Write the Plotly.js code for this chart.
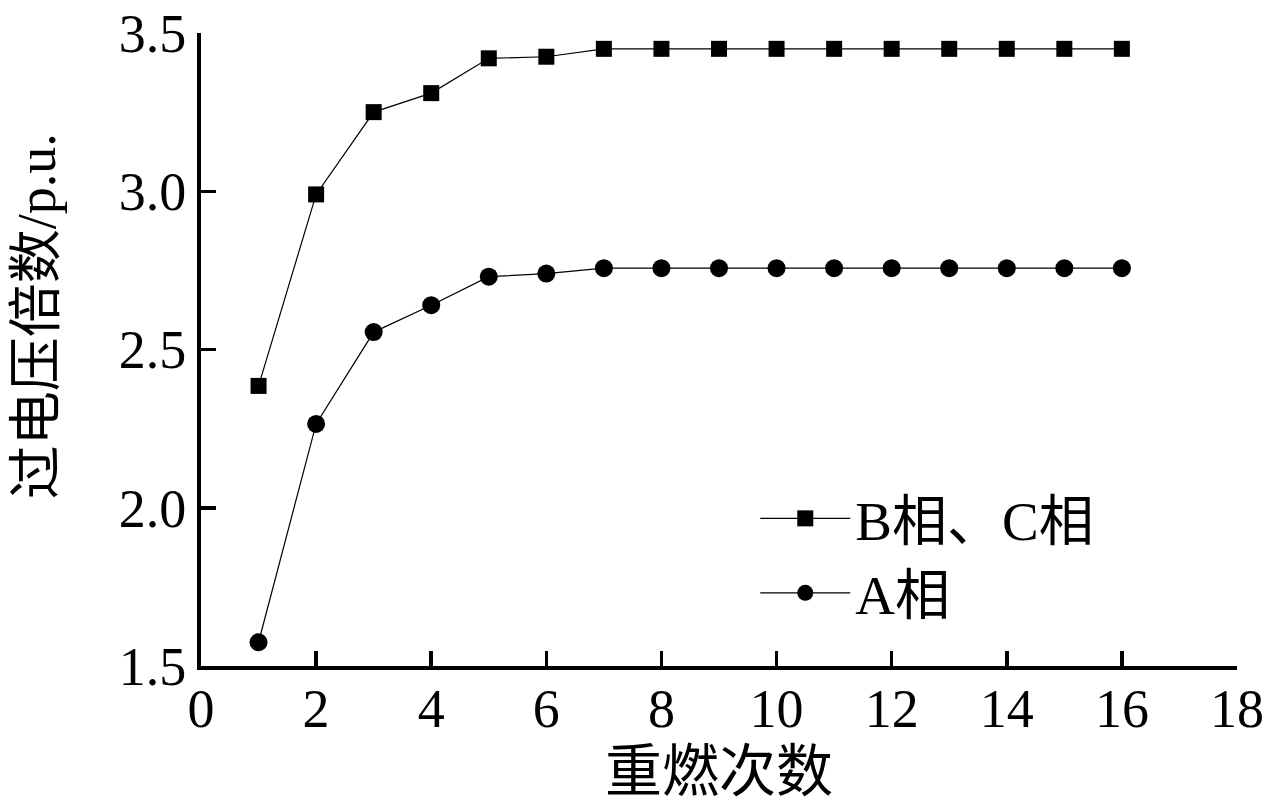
<!DOCTYPE html>
<html><head><meta charset="utf-8">
<script src="https://cdn.plot.ly/plotly-3.0.1.min.js"></script>
<style>body{margin:0;background:#fff}#c{width:1267px;height:808px}</style>
</head><body><div id="c"></div>
<script>
const restrikes = [1,2,3,4,5,6,7,8,9,10,11,12,13,14,15,16];
const phaseBC = [2.385,2.99,3.25,3.31,3.42,3.425,3.45,3.45,3.45,3.45,3.45,3.45,3.45,3.45,3.45,3.45];
const phaseA  = [1.575,2.265,2.555,2.64,2.73,2.74,2.757,2.757,2.757,2.757,2.757,2.757,2.757,2.757,2.757,2.757];
const nameBC = 'B相、C相';
const nameA = 'A相';
const xTitle = '重燃次数';
const yTitle = '过电压倍数/p.u.';

const F = '"Liberation Serif","Times New Roman","Noto Sans CJK SC",serif';
const traces = [
  {x: restrikes, y: phaseBC, name: nameBC, mode:'lines+markers', type:'scatter',
   line:{color:'#000', width:1.2}, marker:{symbol:'square', size:16, color:'#000'}},
  {x: restrikes, y: phaseA, name: nameA, mode:'lines+markers', type:'scatter',
   line:{color:'#000', width:1.2}, marker:{symbol:'circle', size:18, color:'#000'}}
];
const axisCommon = {showline:true, linecolor:'#000', linewidth:4, ticks:'inside', ticklen:15,
  tickwidth:3.5, tickcolor:'#000', showgrid:false, zeroline:false, mirror:false,
  tickfont:{family:F, size:54, color:'#000'}};
const layout = {
  width:1267, height:808, paper_bgcolor:'#fff', plot_bgcolor:'#fff',
  margin:{l:201, r:30, t:33, b:142},
  font:{family:F, color:'#000'},
  xaxis: Object.assign({}, axisCommon, {range:[0,18], tickvals:[0,2,4,6,8,10,12,14,16,18],
    ticklabelstandoff:-8,
    title:{text:xTitle, font:{family:F, size:57}, standoff:14}}),
  yaxis: Object.assign({}, axisCommon, {range:[1.5,3.5], tickvals:[1.5,2.0,2.5,3.0,3.5],
    ticktext:['1.5','2.0','2.5','3.0','3.5']}),
  annotations:[{text:yTitle, xref:'paper', yref:'paper', x:-0.158, y:0.553,
    xanchor:'center', yanchor:'middle', textangle:-90, showarrow:false,
    font:{family:F, size:54, color:'#000'}}],
  showlegend:true,
  legend:{x:0.535, y:0.3, xanchor:'left', yanchor:'top', bgcolor:'rgba(0,0,0,0)',
    font:{family:F, size:55, color:'#000'}, itemwidth:90, tracegroupgap:0}
};
Plotly.newPlot('c', traces, layout, {displayModeBar:false, staticPlot:true});
</script></body></html>
